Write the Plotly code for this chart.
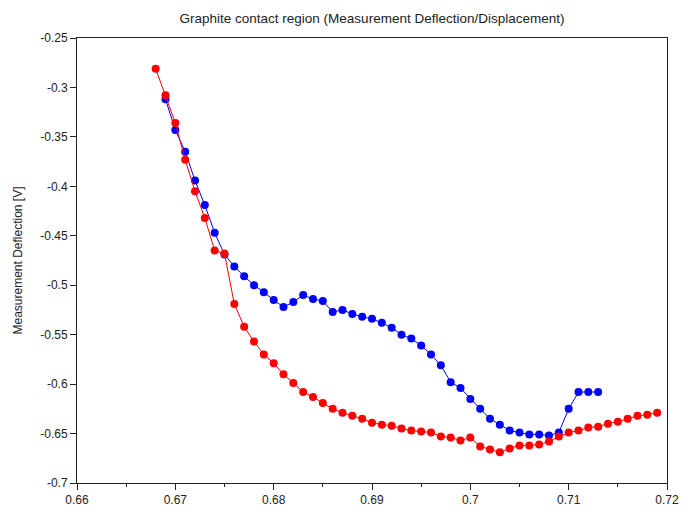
import plotly.graph_objects as go

red_x = [0.668, 0.669, 0.670, 0.671, 0.672, 0.673, 0.674, 0.675, 0.676, 0.677,
         0.678, 0.679, 0.680, 0.681, 0.682, 0.683, 0.684, 0.685, 0.686, 0.687,
         0.688, 0.689, 0.690, 0.691, 0.692, 0.693, 0.694, 0.695, 0.696, 0.697,
         0.698, 0.699, 0.700, 0.701, 0.702, 0.703, 0.704, 0.705, 0.706, 0.707,
         0.708, 0.709, 0.710, 0.711, 0.712, 0.713, 0.714, 0.715, 0.716, 0.717,
         0.718, 0.719]
red_y = [-0.281, -0.308, -0.336, -0.373, -0.405, -0.432, -0.465, -0.468, -0.519, -0.542,
         -0.557, -0.570, -0.579, -0.590, -0.599, -0.608, -0.613, -0.619, -0.625, -0.629,
         -0.632, -0.635, -0.639, -0.641, -0.642, -0.645, -0.647, -0.648, -0.649, -0.653,
         -0.654, -0.657, -0.654, -0.663, -0.666, -0.669, -0.665, -0.662, -0.662, -0.661,
         -0.658, -0.653, -0.649, -0.647, -0.644, -0.643, -0.640, -0.638, -0.635, -0.632,
         -0.631, -0.629]

blue_x = [0.669, 0.670, 0.671, 0.672, 0.673, 0.674, 0.675, 0.676, 0.677, 0.678,
          0.679, 0.680, 0.681, 0.682, 0.683, 0.684, 0.685, 0.686, 0.687, 0.688,
          0.689, 0.690, 0.691, 0.692, 0.693, 0.694, 0.695, 0.696, 0.697, 0.698,
          0.699, 0.700, 0.701, 0.702, 0.703, 0.704, 0.705, 0.706, 0.707, 0.708,
          0.709, 0.710, 0.711, 0.712, 0.713]
blue_y = [-0.312, -0.343, -0.365, -0.394, -0.419, -0.447, -0.469, -0.481, -0.491, -0.500,
          -0.507, -0.515, -0.522, -0.517, -0.510, -0.514, -0.516, -0.527, -0.525, -0.529,
          -0.532, -0.534, -0.538, -0.543, -0.550, -0.554, -0.561, -0.570, -0.581, -0.598,
          -0.604, -0.615, -0.625, -0.635, -0.641, -0.647, -0.649, -0.651, -0.651, -0.652,
          -0.649, -0.625, -0.608, -0.608, -0.608]

x_ticks = [0.66, 0.67, 0.68, 0.69, 0.70, 0.71, 0.72]
x_labels = ["0.66", "0.67", "0.68", "0.69", "0.7", "0.71", "0.72"]
y_ticks = [-0.25, -0.3, -0.35, -0.4, -0.45, -0.5, -0.55, -0.6, -0.65, -0.7]
y_labels = ["-0.25", "-0.3", "-0.35", "-0.4", "-0.45", "-0.5", "-0.55", "-0.6", "-0.65", "-0.7"]

title_text = "Graphite contact region (Measurement Deflection/Displacement)"
y_title = "Measurement Deflection [V]"

font_family = "Liberation Sans, Arial, sans-serif"

fig = go.Figure()
fig.add_trace(go.Scatter(x=blue_x, y=blue_y, mode="lines+markers",
                         line=dict(color="#0000ff", width=1),
                         marker=dict(color="#0000ff", size=8, line=dict(width=0)),
                         showlegend=False))
fig.add_trace(go.Scatter(x=red_x, y=red_y, mode="lines+markers",
                         line=dict(color="#ff0000", width=1),
                         marker=dict(color="#ff0000", size=8, line=dict(width=0)),
                         showlegend=False))

axis_common = dict(showgrid=False, zeroline=False, showline=True, linecolor="#222222",
                   linewidth=1, mirror=True, ticks="outside", ticklen=6, tickwidth=1,
                   tickcolor="#222222", tickfont=dict(family=font_family, size=12, color="#222222"))

fig.update_xaxes(range=[0.66, 0.72], tickmode="array", tickvals=x_ticks, ticktext=x_labels,
                 minor=dict(dtick=0.005, ticks="outside", ticklen=3, tickwidth=1, tickcolor="#222222", showgrid=False),
                 **axis_common)
fig.update_yaxes(range=[-0.7, -0.25], tickmode="array", tickvals=y_ticks, ticktext=y_labels,
                 title=dict(text=y_title, font=dict(family=font_family, size=12, color="#222222"), standoff=15),
                 **axis_common)

fig.update_layout(
    width=691, height=519,
    margin=dict(l=77, r=14, t=38, b=27),
    paper_bgcolor="white", plot_bgcolor="white",
    title=dict(text=title_text, x=0.5, xref="paper", y=1 - 18 / 519, yanchor="middle",
               font=dict(family=font_family, size=13.5, color="#222222")),
)

fig.write_html("out.html")
